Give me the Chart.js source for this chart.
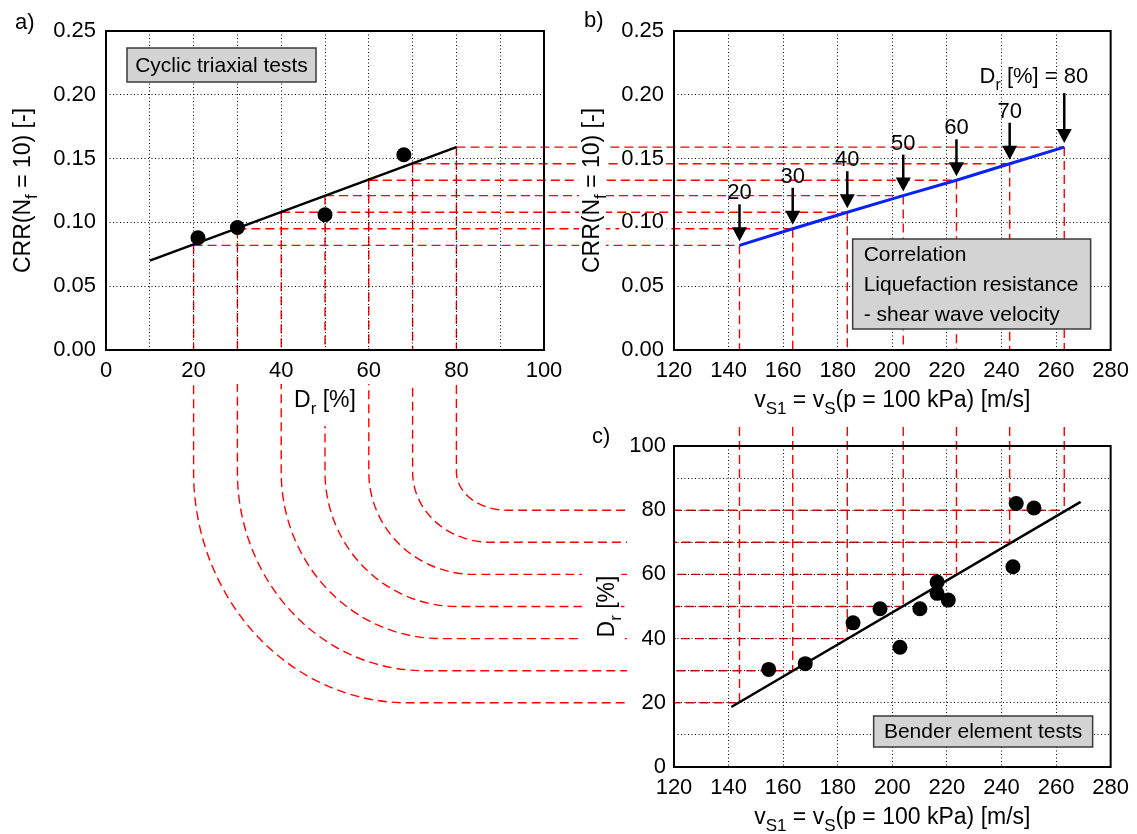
<!DOCTYPE html>
<html>
<head>
<meta charset="utf-8">
<script src="https://cdn.jsdelivr.net/npm/chart.js@4.4.1/dist/chart.umd.min.js"></script>
<style>
  html, body { margin: 0; padding: 0; background: #fff; }
  #page { position: relative; width: 1137px; height: 834px; overflow: hidden; }
  canvas { position: absolute; }
  #links  { left: 0;     top: 0;     z-index: 0; }
  #chartA { left: 0;     top: 0;     z-index: 1; }
  #chartB { left: 560px; top: 0;     z-index: 1; }
  #chartC { left: 560px; top: 400px; z-index: 1; }
</style>
</head>
<body>
<div id="page">
  <canvas id="links" width="1137" height="834"></canvas>
  <canvas id="chartA" width="600" height="440"></canvas>
  <canvas id="chartB" width="577" height="440"></canvas>
  <canvas id="chartC" width="577" height="434"></canvas>
</div>
<script>
// (a) cyclic triaxial tests
var triaxDr  = [21, 30, 50, 68];
var triaxCrr = [0.088, 0.096, 0.106, 0.153];
var fitADr   = [10, 80];
var fitACrr  = [0.070, 0.159];

// Dr levels carried through all three panels
var drLevels  = [20, 30, 40, 50, 60, 70, 80];
var crrLevels = [0.082, 0.095, 0.108, 0.121, 0.133, 0.146, 0.159];
var vsLevels  = [144, 163.5, 183.5, 204, 223.5, 243, 263];

// (c) bender element tests
var benderVs = [154.7, 168.1, 185.6, 195.5, 202.8, 210.1, 216.4, 216.4, 220.5, 244.2, 245.4, 251.9];
var benderDr = [30.4, 32.2, 44.9, 49.3, 37.3, 49.3, 57.6, 54.1, 52.0, 62.4, 82.1, 80.7];
var fitCVs   = [141, 269];
var fitCDr   = [18.7, 82.6];

// tick labels
var crrTickLabels = ['0.00', '0.05', '0.10', '0.15', '0.20', '0.25'];
var drTickLabels  = ['0', '', '20', '', '40', '', '60', '', '80', '', '100'];
var vsTickLabels  = ['120', '140', '160', '180', '200', '220', '240', '260', '280'];

// axis titles, [text, subscript?]
var crrTitle = [['CRR(N'], ['f', 1], [' = 10) [-]']];
var drTitle  = [['D'], ['r', 1], [' [%]']];
var vsTitle  = [['v'], ['S1', 1], [' = v'], ['S', 1], ['(p = 100 kPa) [m/s]']];

var FONT = '"Liberation Sans", Arial, Helvetica, sans-serif';
var FS = 21;   // notes, arrow labels, panel tags
var TK = 22;   // tick labels
var TS = 23;   // axis titles
Chart.defaults.font.family = FONT;
Chart.defaults.font.size = TK;
Chart.defaults.color = '#000';

function pts(xs, ys) {
  return xs.map(function (x, i) { return { x: x, y: ys[i] }; });
}

function richWidth(ctx, parts, size) {
  var w = 0;
  parts.forEach(function (p) {
    ctx.font = (p[1] ? Math.round(size * 0.72) : size) + 'px ' + FONT;
    w += ctx.measureText(p[0]).width;
  });
  return w;
}

function drawRich(ctx, parts, x, y, size, align, angle) {
  ctx.save();
  ctx.translate(x, y);
  if (angle) ctx.rotate(angle);
  var w = richWidth(ctx, parts, size);
  var cx = align === 'center' ? -w / 2 : (align === 'right' ? -w : 0);
  ctx.fillStyle = '#000';
  ctx.textAlign = 'left';
  ctx.textBaseline = 'alphabetic';
  parts.forEach(function (p) {
    ctx.font = (p[1] ? Math.round(size * 0.72) : size) + 'px ' + FONT;
    ctx.fillText(p[0], cx, p[1] ? size * 0.3 : 0);
    cx += ctx.measureText(p[0]).width;
  });
  ctx.restore();
}

function noteBox(ctx, x, y, w, h, lines, center) {
  ctx.save();
  ctx.fillStyle = '#d3d3d3';
  ctx.fillRect(x, y, w, h);
  ctx.strokeStyle = '#3a3a3a';
  ctx.lineWidth = 1.5;
  ctx.strokeRect(x, y, w, h);
  ctx.fillStyle = '#000';
  ctx.font = FS + 'px ' + FONT;
  ctx.textBaseline = 'middle';
  ctx.textAlign = center ? 'center' : 'left';
  var step = h / lines.length;
  lines.forEach(function (t, i) {
    ctx.fillText(t, center ? x + w / 2 : x + 11, y + step * (i + 0.5) + 1);
  });
  ctx.restore();
}

// frame, titles, panel tag, note box and white masks under the text
function framePlugin(p) {
  return {
    id: 'frame',
    beforeDraw: function (chart) {
      var ctx = chart.ctx, a = chart.chartArea;
      ctx.save();
      ctx.fillStyle = '#fff';
      if (p.maskXBand) ctx.fillRect(a.left - 25, a.bottom + 1, a.width + 50, 33);
      if (p.maskYBand) ctx.fillRect(a.left - 47, a.top - 25, 46, a.height + 50);
      if (p.maskLabels) {
        ctx.font = TK + 'px ' + FONT;
        [chart.scales.x, chart.scales.y].forEach(function (s) {
          s.ticks.forEach(function (t, i) {
            if (!t.label) return;
            var w = ctx.measureText(t.label).width;
            var px = s.getPixelForTick(i);
            if (s.isHorizontal()) ctx.fillRect(px - w / 2 - 2, a.bottom + 9, w + 4, 19);
            else ctx.fillRect(a.left - 10 - w - 2, px - 9, w + 4, 18);
          });
        });
      }
      var xw = richWidth(ctx, p.xTitle, TS), xp = p.xPad || [3, 3];
      var xc = (a.left + a.right) / 2, xb = a.bottom + 57;
      ctx.fillRect(xc - xw / 2 - xp[0], xb - 17 - xp[1], xw + 2 * xp[0], 24 + 2 * xp[1]);
      var yw = richWidth(ctx, p.yTitle, TS), yp = p.yPad || [3, 3];
      var yc = (a.top + a.bottom) / 2, yb = a.left - p.yGap;
      ctx.fillRect(yb - 17 - yp[0], yc - yw / 2 - yp[1], 24 + yp[0], yw + 2 * yp[1]);
      ctx.restore();
    },
    afterDraw: function (chart) {
      var ctx = chart.ctx, a = chart.chartArea;
      ctx.save();
      ctx.strokeStyle = '#000';
      ctx.lineWidth = 2;
      ctx.strokeRect(a.left, a.top, a.width, a.height);
      ctx.restore();
      drawRich(ctx, p.xTitle, (a.left + a.right) / 2, a.bottom + 57, TS, 'center');
      drawRich(ctx, p.yTitle, a.left - p.yGap, (a.top + a.bottom) / 2, TS, 'center', -Math.PI / 2);
      ctx.save();
      ctx.font = TK + 'px ' + FONT;
      ctx.fillStyle = '#000';
      ctx.fillText(p.tag[0], p.tag[1], p.tag[2]);
      ctx.restore();
      p.note(ctx, a);
    }
  };
}

// (b) arrows pointing at each Dr level on the correlation line
var arrowPlugin = {
  id: 'arrows',
  afterDatasetsDraw: function (chart) {
    var ctx = chart.ctx, xs = chart.scales.x, ys = chart.scales.y;
    ctx.save();
    ctx.strokeStyle = '#000';
    ctx.fillStyle = '#000';
    ctx.lineWidth = 2.5;
    drLevels.forEach(function (dr, i) {
      var last = i === drLevels.length - 1;
      var x = xs.getPixelForValue(vsLevels[i]);
      var tip = ys.getPixelForValue(crrLevels[i]) - 4;
      var top = tip - (last ? 50 : 37);
      ctx.beginPath();
      ctx.moveTo(x, top);
      ctx.lineTo(x, tip - 10);
      ctx.stroke();
      ctx.beginPath();
      ctx.moveTo(x - 7.5, tip - 14);
      ctx.lineTo(x + 7.5, tip - 14);
      ctx.lineTo(x, tip);
      ctx.closePath();
      ctx.fill();
      if (last) {
        drawRich(ctx, [['D'], ['r', 1], [' [%] = ' + dr]], x + 24, top - 10, TK, 'right');
      } else {
        ctx.font = TK + 'px ' + FONT;
        ctx.textAlign = 'center';
        ctx.textBaseline = 'alphabetic';
        ctx.fillText(String(dr), x, top - 5);
      }
    });
    ctx.restore();
  }
};

function gridOpts() {
  return { color: '#000', lineWidth: 1, drawTicks: false };
}
function borderOpts() {
  return { display: false, dash: [1, 2.5] };
}

function baseOptions(pad, xScale, yScale) {
  return {
    responsive: false,
    animation: false,
    devicePixelRatio: 1,
    events: [],
    layout: { padding: pad },
    plugins: { legend: { display: false }, tooltip: { enabled: false } },
    scales: { x: xScale, y: yScale }
  };
}

var crrAxis = {
  type: 'linear', min: 0, max: 0.25,
  grid: gridOpts(), border: borderOpts(),
  ticks: { stepSize: 0.05, padding: 10, callback: function (v, i) { return crrTickLabels[i]; } }
};
var vsAxis = {
  type: 'linear', min: 120, max: 280,
  grid: gridOpts(), border: borderOpts(),
  ticks: { stepSize: 20, padding: 8, autoSkip: false, maxRotation: 0,
           callback: function (v, i) { return vsTickLabels[i]; } }
};
var drAxis = {
  type: 'linear', min: 0, max: 100,
  grid: gridOpts(), border: borderOpts(),
  ticks: { stepSize: 10, padding: 8, autoSkip: false, maxRotation: 0,
           callback: function (v, i) { return drTickLabels[i]; } }
};

function withFit(axis, fit) {
  return Object.assign({}, axis, { afterFit: fit });
}

// (a) CRR against relative density
var chartA = new Chart(document.getElementById('chartA'), {
  type: 'scatter',
  data: {
    datasets: [
      { data: pts(fitADr, fitACrr), showLine: true, borderColor: '#000', borderWidth: 2.5, pointRadius: 0 },
      { data: pts(triaxDr, triaxCrr), pointRadius: 7.5, backgroundColor: '#000', borderWidth: 0 }
    ]
  },
  options: baseOptions({ left: 0, top: 31, right: 56, bottom: 0 },
    withFit(drAxis, function (s) { s.height = 90; }),
    withFit(crrAxis, function (s) { s.width = 106; })),
  plugins: [framePlugin({
    xTitle: drTitle, yTitle: crrTitle, yGap: 76,
    maskXBand: true, xPad: [3, 12],
    tag: ['a)', 15, 29],
    note: function (ctx, a) { noteBox(ctx, a.left + 21, a.top + 17, 189, 34, ['Cyclic triaxial tests'], true); }
  })]
});

// (b) CRR against normalised shear wave velocity
var chartB = new Chart(document.getElementById('chartB'), {
  type: 'scatter',
  data: {
    datasets: [
      { data: pts(vsLevels, crrLevels), showLine: true, borderColor: '#0a22f5', borderWidth: 3, pointRadius: 0 }
    ]
  },
  options: baseOptions({ left: 0, top: 31, right: 25, bottom: 0 },
    withFit(vsAxis, function (s) { s.height = 90; }),
    withFit(crrAxis, function (s) { s.width = 114; })),
  plugins: [arrowPlugin, framePlugin({
    xTitle: vsTitle, yTitle: crrTitle, yGap: 75,
    maskLabels: true,
    tag: ['b)', 24, 27],
    note: function (ctx, a) {
      noteBox(ctx, a.right - 20 - 238, a.bottom - 21 - 90, 238, 90,
        ['Correlation', 'Liquefaction resistance', '- shear wave velocity'], false);
    }
  })]
});

// (c) relative density against normalised shear wave velocity
var chartC = new Chart(document.getElementById('chartC'), {
  type: 'scatter',
  data: {
    datasets: [
      { data: pts(fitCVs, fitCDr), showLine: true, borderColor: '#000', borderWidth: 2.5, pointRadius: 0 },
      { data: pts(benderVs, benderDr), pointRadius: 7.5, backgroundColor: '#000', borderWidth: 0 }
    ]
  },
  options: baseOptions({ left: 0, top: 46, right: 25, bottom: 0 },
    withFit(vsAxis, function (s) { s.height = 67; }),
    withFit(Object.assign({}, drAxis, {
      ticks: { stepSize: 10, padding: 8, autoSkip: false,
               callback: function (v, i) { return drTickLabels[i]; } }
    }), function (s) { s.width = 114; })),
  plugins: [framePlugin({
    xTitle: vsTitle, yTitle: drTitle, yGap: 60,
    maskYBand: true, yPad: [15, 3],
    tag: ['c)', 32, 43],
    note: function (ctx, a) {
      noteBox(ctx, a.right - 18 - 219, a.bottom - 20 - 31, 219, 31, ['Bender element tests'], true);
    }
  })]
});

// red dashed construction lines linking the three panels
function drawLinks() {
  var ctx = document.getElementById('links').getContext('2d');
  var offB = { x: 560, y: 0 }, offC = { x: 560, y: 400 };
  var ax = chartA.scales.x, ay = chartA.scales.y;
  var bx = chartB.scales.x, by = chartB.scales.y;
  var cx = chartC.scales.x, cy = chartC.scales.y;
  var bendY = chartA.chartArea.bottom + 122;
  ctx.strokeStyle = '#ff0000';
  ctx.lineWidth = 1.4;
  ctx.setLineDash([9, 5]);
  function seg(x1, y1, x2, y2) {
    ctx.beginPath();
    ctx.moveTo(x1, y1);
    ctx.lineTo(x2, y2);
    ctx.stroke();
  }
  drLevels.forEach(function (dr, i) {
    var xa = ax.getPixelForValue(dr), ya = ay.getPixelForValue(crrLevels[i]);
    var xb = offB.x + bx.getPixelForValue(vsLevels[i]), yb = offB.y + by.getPixelForValue(crrLevels[i]);
    var xc = offC.x + cx.getPixelForValue(vsLevels[i]), yc = offC.y + cy.getPixelForValue(dr);
    seg(xa, ya, xb, yb);
    seg(xb, yb, xb, offB.y + chartB.chartArea.bottom);
    seg(xc, offC.y + chartC.chartArea.top - 19, xc, yc);
    var ry = yc - bendY, rx = 0.85 * ry + 18;
    ctx.beginPath();
    ctx.moveTo(xa, ya);
    ctx.lineTo(xa, bendY);
    ctx.ellipse(xa + rx, bendY, rx, ry, 0, Math.PI, Math.PI / 2, true);
    ctx.lineTo(xc, yc);
    ctx.stroke();
  });
}
drawLinks();
</script>
</body>
</html>
